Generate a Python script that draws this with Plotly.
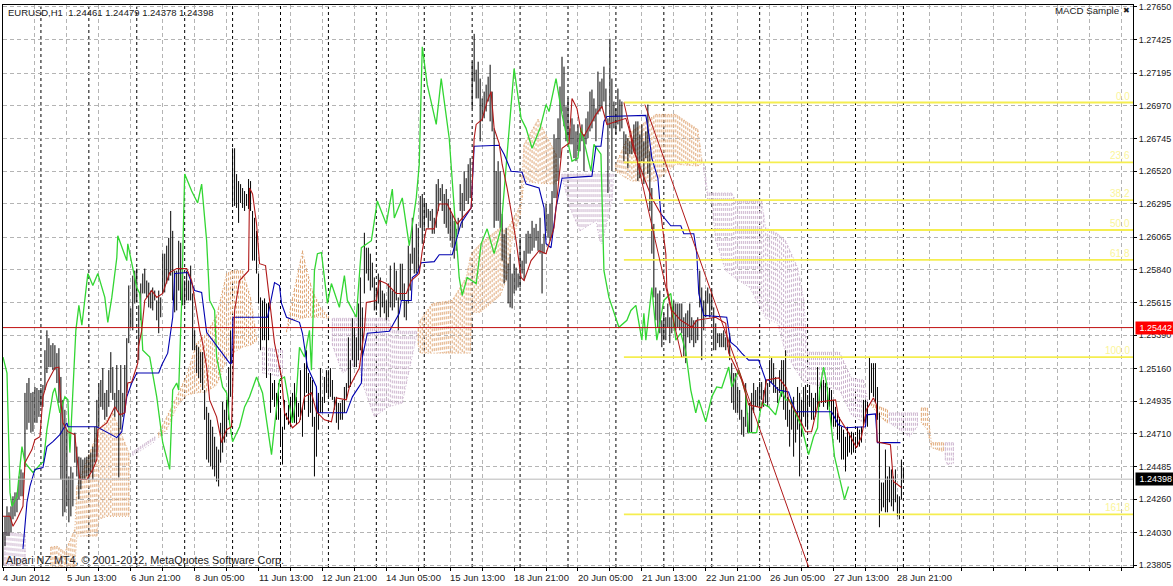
import numpy as np
import plotly.graph_objects as go

# prices in 1e-5 units
bar_high = [124033,124142,124211,124170,124211,124280,124307,124307,124417,124465,124444,124992,125060,125095,124992,124999,125033,125026,125012,125026,125047,125286,125423,125369,125321,125335,125321,125266,125300,125102,124944,124876,124739,124417,124485,124444,124718,124622,124553,124547,124533,124547,124553,124567,124581,124622,124759,124944,125060,125081,125163,124992,125012,125149,125273,125170,124992,125184,125012,125184,124992,125184,125369,125732,125574,125800,125834,125848,125595,125746,125814,125848,125766,125752,125697,125718,125697,125629,125697,125650,125951,125951,126006,126060,126245,126108,125834,125834,126040,126026,125834,125766,125834,125766,125869,125677,125423,125321,125307,125273,125273,125012,124896,124855,124807,124759,124690,124622,124602,124786,124930,124876,124944,125170,
125423,126677,126677,126499,126451,126430,126403,126382,126362,126465,126451,126245,126198,126108,125814,125650,125629,125643,125608,125615,125129,125060,125081,124992,125060,124876,124759,124944,124855,124910,124965,124992,125060,124965,124923,125149,124896,125197,125286,125129,125102,125081,124827,125033,124992,125163,124965,125102,125149,125149,125163,125081,124965,124965,124923,124923,124944,125033,125060,125375,125218,125506,125444,125375,125608,125787,125581,126095,125992,125992,125951,125889,125787,125718,125814,125787,125697,125677,125629,125746,125869,125697,125889,125834,125650,125882,125882,125746,125629,126006,125951,126198,125992,126156,126129,
126348,126362,126314,126300,126259,126245,126259,126198,126430,126465,126403,126430,126362,126396,126328,126266,126225,126177,126122,126198,126430,126369,126519,126471,126567,126609,127273,127465,127218,127273,127157,127020,127067,127115,127170,127252,127067,126814,126519,126588,126519,126225,126088,126129,125882,125951,125814,125882,125855,125814,126060,125903,125971,126088,126108,126088,126177,126129,126156,126108,126198,126019,126088,126293,126225,126293,126382,126773,126746,126883,127102,127307,127239,126965,127020,126814,126883,126841,126793,126841,126780,126841,126773,126883,126930,127067,127081,127020,126951,127205,127136,127157,127239,127088,126883,127431,127157,126999,126951,127088,127013,126999,126793,126773,126746,126725,126746,126841,126862,126862,126773,126841,126725,126793,126978,126656,126403,126156,125718,125677,125697,125492,125540,125513,125608,125513,125581,125629,125608,125608,125608,125608,125513,125540,125560,125608,125513,125492,125492,125513,125834,125718,125629,125697,125718,125677,125697,125581,125471,125403,125403,125403,125423,125375,125375,125403,125197,125129,125129,125033,125012,124876,124827,125060,124855,124923,124992,125060,125012,125033,125067,125067,125012,125081,125060,125218,125232,125197,125102,125033,125149,125218,125218,125286,124965,124876,124944,124965,124876,125033,124992,124944,125033,125047,124978,125047,124992,124958,124992,125170,125033,125081,125081,125060,125033,125026,125012,124944,124896,124855,124827,124759,124739,124690,124759,124718,124725,124718,124690,124759,124739,124759,124944,124944,124930,125239,125197,125197,125197,125033,124855,124375,124375,124602,124417,124485,124465,124417,124465,124293,124280,124533,124479]
bar_low = [123807,123937,124006,124006,124033,124122,124142,124170,124259,124280,124280,124485,124739,124786,124718,124725,124786,124786,124827,124896,124896,125012,125129,125170,125170,125149,125149,125060,124923,124396,124142,124170,124211,124101,124142,124211,124512,124417,124259,124328,124396,124396,124417,124396,124444,124396,124512,124553,124759,124896,124876,124807,124827,124896,124992,124944,124827,124876,124410,124739,124827,124855,124992,125335,125444,125423,125608,125615,125218,125492,125677,125677,125650,125581,125574,125560,125629,125492,125403,125513,125677,125684,125745,125766,125800,125629,125547,125560,125697,125629,125595,125595,125629,125629,125629,125286,125286,125129,125095,125060,125012,124807,124533,124512,124485,124465,124417,124382,124348,124512,124581,124650,124690,124807,
124965,126280,126280,126266,126163,126300,126266,126245,126280,126259,126245,125903,125903,125814,125608,125286,125355,125355,125095,125355,124855,124944,124896,124807,124807,124622,124499,124739,124807,124773,124759,124807,124786,124773,124827,124807,124690,124876,124992,124827,124855,124759,124417,124553,124739,124855,124855,124923,124992,124965,124965,124944,124876,124786,124739,124807,124807,124855,124944,125026,125033,125218,125170,125170,125218,125286,125239,125677,125814,125766,125697,125718,125560,125560,125608,125513,125581,125540,125492,125513,125581,125560,125581,125629,125423,125629,125629,125513,125492,125608,125697,125882,125814,125814,125834,
126129,126019,126129,126198,126129,126177,126088,126088,126129,126245,126314,126245,126156,126129,126088,126040,125992,125917,125971,126088,126245,126129,126245,126314,126293,126334,126951,127136,127020,127020,126725,126862,126883,126930,126999,126862,126793,126129,126177,126177,126129,125903,125745,125766,125608,125581,125574,125677,125697,125718,125718,125814,125766,125882,125951,125951,125971,125992,126040,125971,125951,125677,125951,126108,126060,126040,126060,126334,126334,126451,126609,126930,126828,126725,126746,126704,126704,126609,126588,126656,126656,126725,126519,126704,126746,126793,126814,126862,126725,126910,126930,126951,126999,126862,126369,126814,126519,126814,126773,126841,126793,126814,126588,126636,126540,126636,126636,126656,126636,126451,126472,126588,126430,126609,126499,126245,125951,125650,125492,125444,125403,125307,125355,125355,125444,125335,125403,125444,125423,125444,125423,125403,125239,125197,125375,125335,125355,125307,125335,125355,125581,125218,125423,125513,125608,125513,125560,125286,125286,125335,125307,125307,125307,125286,125307,125218,124923,124876,124855,124855,124807,124704,124690,124759,124718,124718,124718,124855,124896,124896,124896,124944,124896,124923,124896,125033,125060,124992,124992,124923,124992,124965,124876,124807,124759,124622,124739,124553,124650,124739,124417,124690,124827,124759,124739,124896,124807,124807,124827,124896,124896,124923,124896,124923,124876,124896,124759,124759,124759,124670,124650,124533,124533,124451,124553,124581,124567,124581,124602,124622,124622,124650,124759,124786,124759,124944,124992,124965,124923,124807,124067,124177,124204,124170,124170,124239,124211,124177,124239,124142,124122,124259,124378]

tenkan_bar = [0,3.5,5,7,10,11,14.5,16,18.5,20,22,26,28,28.5,30,32.5,36,37,38.5,42,45,47,47.5,52,54.5,56,58.5,61,62.5,64.5,67.5,67.8,69.5,71,74.5,77,80,83.5,87,92,94.5,98.5,100,102,103.5,107,109.5,112,114.5,116,118.5,121.5,123,123.5,125,127,128.5,131.5,133.5,136,139.5,141,145,148.5,151,154.5,157,161,164.5,167,172,173.5,178.5,181,182,187,188.5,192,197,202,204.5,208.5,210,212,216,218.5,222.5,225,227.5,234.5,236,237,240,242.5,244.5,246,248.5,250,252.5,254.5,257,259.5,261,264.5,268.5,272,276,280,283.5,285,287.5,289.5,291,297,300,302.5,312,313.5,316,325,329.5,332,332.5,335,339.5,345,347.5,357,362,363.5,370,373.5,380,382.5,388.5,392.5,393.5,398.5,402,405,408.5,417,418.5,423.5,427.5,430,432.5,436,437.5,437.8,444.5,446,450]
tenkan = [124143,124143,124074,124122,124211,124512,124602,124670,124690,124965,125060,125163,125170,125012,124786,124725,124704,124553,124396,124396,124465,124533,124739,124786,124855,124896,124841,124855,125060,125067,125197,125307,125423,125629,125697,125650,125677,125821,125848,125848,125766,125423,125335,125170,124944,124827,124650,124739,124759,125560,125766,125814,125834,126403,126362,126156,125882,125869,125650,125335,125102,124855,124752,124793,124965,124992,124862,124807,124793,124958,124944,125033,125163,125423,125615,125629,125766,125745,125677,125677,125766,125814,125971,126122,126122,126293,126293,126225,126156,126266,126746,126841,126876,126999,127067,126814,126711,126567,126403,126245,126040,125787,125766,125903,125971,125951,126129,126677,126711,127020,126951,126793,126759,126910,126965,126841,126883,126814,126656,126334,126225,125951,125718,125560,125492,125444,125492,125513,125471,125266,125081,124910,124889,125081,125095,125026,124944,124827,124725,124725,124930,124944,124827,124718,124615,124690,124876,124958,124910,124656,124636,124382,124341]

kijun_bar = [10,12,13.5,16,20,22,25,28.5,32,32.5,47,57,59.5,62,64.5,67,78,79.5,82.5,85,86,92.5,96,99.5,102,113.5,114.5,115,115.2,132.5,136,138.5,139.5,142,148.5,150,152.5,157,157.5,172,175,179.5,180,182.5,193.5,198.5,199.5,204.5,205,207.5,209.5,216,218.5,225,227.5,229.5,234.5,236,248.5,251,254.5,260,262,268.5,271,272,274.5,277,280,295,297,299.5,301,302.5,322,323.5,325,328,329.5,332.5,334.5,339.5,341,346,347.5,348.5,351,362.5,364.5,367.5,370,373.5,378.5,382,383.5,388.5,393.5,394.5,397,415,418.5,422,432,432.5,437,438,449.5]
kijun = [123917,124238,124348,124465,124478,124622,124656,124704,124786,124759,124759,124684,124725,124965,125060,125129,125129,125184,125266,125513,125814,125821,125697,125684,125410,125197,125197,125423,125513,125513,125752,125732,125608,125513,125478,125403,125170,125033,124855,124855,124965,125060,125239,125403,125417,125540,125629,125629,125787,125814,125889,125896,125944,125944,126060,126163,126266,126691,126698,126636,126519,126512,126430,126403,126266,126019,125992,126266,126471,126485,126691,126691,126862,126896,126903,126773,126609,126472,126225,126177,126143,126143,126088,126088,125951,125677,125526,125513,125341,125307,125266,125218,125218,125081,125081,125012,124999,124958,124862,124862,124773,124752,124759,124841,124848,124650,124650]

chikou_bar = [0,2,3.5,4.5,7,8.5,9.5,11,15,19.5,20.2,22,23.5,25,26,28.5,31,32.5,33.5,35,36.5,38,39.5,42.5,45,47.5,51,52.5,54.5,57,57.5,62,62.5,67,68.5,70,73.5,77,80,83.5,85,87,88,89.5,91,94.5,97.5,99.5,102,103.5,106,107,110,112,113.5,115,118.5,121,123.5,127,130,134.5,138.5,141,145,147,148.5,151,153.5,154.5,156,157.5,159.5,162.5,164.5,168.5,171,172.5,177,179.5,184.5,187.5,192,195,196,200,203.5,207,207.5,208.5,210,212.5,217,219.5,223.5,227,228.5,230,232.5,237,239.5,242.5,246,249.5,252.5,256,259.5,262,265,269,272,273.5,277,278,280,285,288,289.5,294.5,296,299.5,301,303.5,308.5,312.5,314.5,317,320,321,322,325,327.5,331,334.5,337,339.5,342,344.5,347,348.5,352,355,357.5,360,363.5,365,368.5,372,373.5,377.5,380,383.5,387,390,392,394,400,403.5,406,408,409,411,412.5,416.5,421.5,423.5]
chikou = [125239,125129,124307,124211,124280,124485,124622,124512,124444,124512,124512,124739,124876,124992,125026,124855,124965,124944,124581,125033,125423,125595,125458,125814,125732,125814,125650,125478,125650,125923,126074,125903,126019,125718,125677,125286,125239,124965,124649,124465,125012,125060,125012,125629,126499,126382,126300,126430,126040,125629,125560,125239,125033,124992,124786,124656,124759,124896,124965,125102,124992,124567,125081,125102,124786,124992,125307,125239,125423,125149,125834,125951,125958,125608,125745,125581,125800,125629,125513,125992,126040,126314,126156,126396,126197,126335,126006,126335,126403,126567,127376,127115,126841,127157,126746,126108,125787,125663,125787,125745,126019,126122,125951,126129,126636,127225,126883,126814,126677,126814,126978,126930,127157,127067,126910,126588,126609,126814,126519,126704,126636,125834,125650,125444,125492,125560,125595,125355,125540,125355,125718,125355,125629,125677,125355,125403,125273,125012,124855,124944,124793,124965,125033,125026,125170,125033,125149,124992,124718,124718,124923,124896,124841,125012,124944,124944,124759,124567,124690,124752,125012,125170,125060,124553,124259,124348,124259,124211,124465]

senkou_bar = [1,11,24,27,31,36,37,47,48,52,55,63,65,76,78,82,87,92,97,102,107,112,115,120,124,127,130,140,142,144,150,152,155,159,163,165,170,178,180,186,193,195,200,204,207,208,209,215,225,232,234,235,239,249,252,255,259,261,268,277,280,284,289,297,299,300,305,306,307,312,315,327,337,348,350,351,353,355,357,362,365,367,374,380,382,388,392,398,401,403,419,425,431,433,435,441,443,444,454,458,460,463,465,471,472,473,476]
senkou_a = [123807,123807,123930,123937,123896,124053,124348,124711,124739,124807,124855,124581,124560,124656,124718,124827,124965,125115,125335,125403,125526,125814,125834,125834,125650,125375,125129,125102,125423,125581,125971,125848,125697,125581,125519,125321,125129,125197,125060,124827,124896,124903,124923,125184,125375,125437,125492,125608,125629,125787,125923,125958,126019,126129,126108,126177,126280,126704,126876,126636,126478,126266,126108,126177,126040,126019,126314,126485,126567,126725,126793,126910,126910,126807,126602,126519,126328,126314,126040,125834,125800,125780,125718,125560,125506,125471,125266,125129,125067,125060,125012,124841,124786,124917,124917,124889,124876,124786,124690,124759,124889,124889,124650,124650,124533,124499,124506]
senkou_b = [124033,124019,123795,123795,123795,123795,124006,124006,124122,124142,124142,124142,124588,124690,124684,124739,124896,124978,124992,124999,125047,125218,125266,125307,125321,125348,125307,125286,125410,125492,125506,125513,125513,125513,125506,125506,125506,125506,125506,125506,125506,125423,125417,125417,125417,125321,125266,125266,125266,125266,125266,125547,125547,125663,125766,126040,126211,126451,126437,126430,126499,126499,126499,126499,126499,126499,126499,126499,126519,126472,126451,126451,126567,126554,126574,126581,126369,126369,126369,126369,126369,126314,126314,126314,126129,126088,126040,125855,125643,125273,125273,125095,125081,124944,124903,124807,124786,124855,124855,124855,124786,124739,124615,124588,124650,124650,124650]

y_tick_labels = ["1.27650","1.27425","1.27195","1.26970","1.26745","1.26520","1.26295","1.26065","1.25840","1.25615","1.25390","1.25160","1.24935","1.24710","1.24485","1.24260","1.24030","1.23805"]
x_tick_bars = [0,32,64,96,128,160,192,224,256,288,320,352,384,416,448]
x_tick_labels = ["4 Jun 2012","5 Jun 13:00","6 Jun 21:00","8 Jun 05:00","11 Jun 13:00","12 Jun 21:00","14 Jun 05:00","15 Jun 13:00","18 Jun 21:00","20 Jun 05:00","21 Jun 13:00","22 Jun 21:00","26 Jun 05:00","27 Jun 13:00","28 Jun 21:00"]
day_bars = [19,43,67,91,115,139,163,187,211,235,259,283,307,331,355,379,403,427,451]
fib_levels = ["0.0","23.6","38.2","50.0","61.8","100.0","161.8"]
fib_prices = [126992,126580,126320,126114,125908,125239,124156]
fib_start_bar = 311
fib_end_bar = 566
trend1_bar = [311,340]
trend1_price = [126992,125239]
trend2_bar = [321.5,403.5]
trend2_price = [126978,123793]
bid_line = 125442
last_line = 124398

P = 1e-5
FONT = "Liberation Sans"
TXT = "#202020"
YMIN, YMAX = 123793.2, 127663.5

fig = go.Figure()

# Ichimoku cloud: dashed column hatching between the two spans, one group per run of same sign
runs = []
for b, a, c in zip(senkou_bar, senkou_a, senkou_b):
    up = a >= c
    if not runs or runs[-1][0] != up:
        runs.append((up, []))
    runs[-1][1].append((b, a, c))
for up, rows in runs:
    col = "#E0A878" if up else "#CCB4CE"
    rb = [r[0] for r in rows]
    ra = [r[1] * P for r in rows]
    rc = [r[2] * P for r in rows]
    xs = rb + rb[::-1] + [rb[0]]
    ys = ra + rc[::-1] + [ra[0]]
    fig.add_trace(go.Scatter(x=xs, y=ys, mode="lines", hoverinfo="skip", line=dict(color=col, width=1, dash="1px,2px")))
    hx, hy = [], []
    for i in range(int(np.ceil(rb[0])), int(rb[-1]) + 1):
        t = float(np.interp(i, rb, ra))
        u = float(np.interp(i, rb, rc))
        hx += [i, i, None]
        hy += [max(t, u), min(t, u), None]
    fig.add_trace(go.Scatter(x=hx, y=hy, mode="lines", hoverinfo="skip", line=dict(color=col, width=1, dash="3px,2px")))

# high-low bars
bx, by = [], []
for i, (h, l) in enumerate(zip(bar_high, bar_low)):
    bx += [i, i, None]
    by += [l * P, h * P, None]
fig.add_trace(go.Scatter(x=bx, y=by, mode="lines", line=dict(color="#000000", width=1), hoverinfo="skip"))

fig.add_trace(go.Scatter(x=chikou_bar, y=[v * P for v in chikou], mode="lines",
                         line=dict(color="#33D633", width=1.3), hoverinfo="skip"))
fig.add_trace(go.Scatter(x=kijun_bar, y=[v * P for v in kijun], mode="lines",
                         line=dict(color="#0000B0", width=1.1), hoverinfo="skip"))
fig.add_trace(go.Scatter(x=tenkan_bar, y=[v * P for v in tenkan], mode="lines",
                         line=dict(color="#B01818", width=1.1), hoverinfo="skip"))

# horizontal price lines
fig.add_trace(go.Scatter(x=[0, 566], y=[bid_line * P] * 2, mode="lines", line=dict(color="#C01010", width=1), hoverinfo="skip"))
fig.add_trace(go.Scatter(x=[0, 566], y=[last_line * P] * 2, mode="lines", line=dict(color="#B8B8B8", width=1), hoverinfo="skip"))

# Fibonacci levels
for p in fib_prices:
    fig.add_trace(go.Scatter(x=[fib_start_bar, fib_end_bar], y=[p * P] * 2, mode="lines",
                             line=dict(color="#F5EE50", width=1.8), hoverinfo="skip"))
fig.add_trace(go.Scatter(x=trend1_bar, y=[v * P for v in trend1_price], mode="lines", line=dict(color="#B01818", width=1), hoverinfo="skip"))
fig.add_trace(go.Scatter(x=trend2_bar, y=[v * P for v in trend2_price], mode="lines", line=dict(color="#B01818", width=1), hoverinfo="skip"))

shapes = [dict(type="line", xref="x", yref="paper", x0=d, x1=d, y0=0, y1=1, layer="below",
               line=dict(color="#000000", width=1, dash="3px,3px")) for d in day_bars]

ann = []
for lab, p in zip(fib_levels, fib_prices):
    ann.append(dict(x=565.2, y=p * P, xref="x", yref="y", text=lab, showarrow=False, xanchor="right", yanchor="bottom",
                    font=dict(family=FONT, size=10, color="#FBF59A"), borderpad=0))
for b, lab in zip(x_tick_bars, x_tick_labels):
    ann.append(dict(x=b, y=0, xref="x", yref="paper", text=lab, showarrow=False, xanchor="left", yanchor="top", yshift=-4,
                    xshift=-1, font=dict(family=FONT, size=9.5, color=TXT), borderpad=0))
ann.append(dict(x=0.0027, y=0.9858, xref="paper", yref="paper", text="EURUSD,H1&nbsp;&nbsp;1.24461 1.24479 1.24378 1.24398",
                showarrow=False, xanchor="left", yanchor="middle", font=dict(family=FONT, size=9.5, color=TXT)))
ann.append(dict(x=0.0005, y=-0.002, xref="paper", yref="paper", text="Alpari NZ MT4, © 2001-2012, MetaQuotes Software Corp.",
                showarrow=False, xanchor="left", yanchor="bottom", font=dict(family=FONT, size=10.8, color=TXT)))
ann.append(dict(x=0.989, y=0.9898, xref="paper", yref="paper", text="MACD Sample", showarrow=False, xanchor="right", yanchor="middle",
                font=dict(family=FONT, size=9.7, color=TXT)))
ann.append(dict(x=0.999, y=0.9898, xref="paper", yref="paper", text="✖", showarrow=False, xanchor="right", yanchor="middle",
                font=dict(family="DejaVu Sans", size=8, color=TXT)))
ann.append(dict(x=1.0017, y=bid_line * P, xref="paper", yref="y", text="&nbsp;1.25442", showarrow=False, xanchor="left", yanchor="middle",
                bgcolor="#FF0000", borderpad=1, font=dict(family=FONT, size=9, color="#FFFFFF")))
ann.append(dict(x=1.0017, y=last_line * P, xref="paper", yref="y", text="&nbsp;1.24398", showarrow=False, xanchor="left", yanchor="middle",
                bgcolor="#000000", borderpad=1, font=dict(family=FONT, size=9, color="#FFFFFF")))

fig.update_layout(
    width=1173, height=586, autosize=False, showlegend=False,
    margin=dict(l=3, r=38, t=2, b=19), paper_bgcolor="#FFFFFF", plot_bgcolor="#FFFFFF",
    shapes=shapes, annotations=ann, hovermode=False,
    xaxis=dict(range=[0, 566], tickvals=list(range(0, 566, 16)), showticklabels=False, ticks="outside", ticklen=3, tickcolor="#000000",
               showgrid=True, griddash="4px,3px", gridcolor="#B4B4B4", gridwidth=1, zeroline=False,
               showline=True, linecolor="#000000", linewidth=1, mirror=True),
    yaxis=dict(range=[YMIN * P, YMAX * P], side="right", tickvals=[float(t) for t in y_tick_labels], ticktext=y_tick_labels,
               ticks="outside", ticklen=3, tickcolor="#000000", tickfont=dict(family=FONT, size=9, color=TXT),
               showgrid=True, griddash="4px,3px", gridcolor="#B4B4B4", gridwidth=1, zeroline=False,
               showline=True, linecolor="#000000", linewidth=1, mirror=True),
)
fig.write_html("out.html", config=dict(displayModeBar=False),
               post_script="document.body.style.margin='0';document.body.style.overflow='hidden';")
